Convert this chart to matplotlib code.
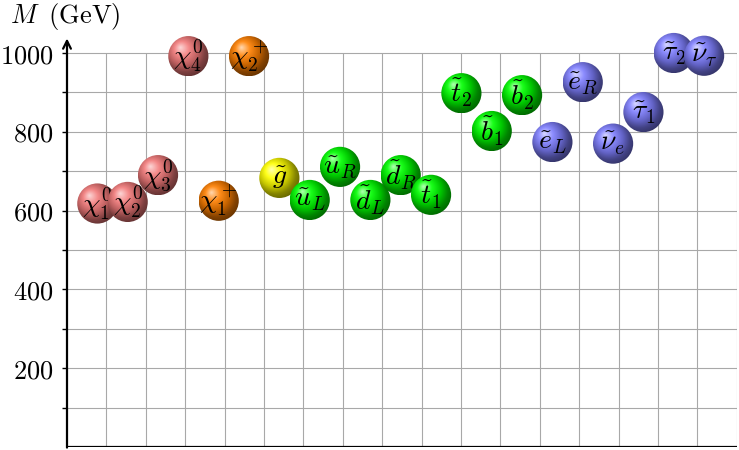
import numpy as np
import matplotlib
matplotlib.use("Agg")
import matplotlib.pyplot as plt
from matplotlib.patches import Ellipse

plt.rcParams["mathtext.fontset"] = "cm"
plt.rcParams["font.family"] = "serif"
plt.rcParams["font.serif"] = ["DejaVu Serif"]

# particle labels and masses (GeV), in drawing order
labels = [r"$\chi_1^0$", r"$\chi_2^0$", r"$\chi_3^0$", r"$\chi_4^0$",
          r"$\chi_1^+$", r"$\chi_2^+$",
          r"$\tilde{g}$",
          r"$\tilde{u}_L$", r"$\tilde{u}_R$", r"$\tilde{d}_L$", r"$\tilde{d}_R$",
          r"$\tilde{t}_1$", r"$\tilde{t}_2$", r"$\tilde{b}_1$", r"$\tilde{b}_2$",
          r"$\tilde{e}_L$", r"$\tilde{e}_R$", r"$\tilde{\nu}_e$",
          r"$\tilde{\tau}_1$", r"$\tilde{\tau}_2$", r"$\tilde{\nu}_\tau$"]
masses = [618, 622, 690, 992,
          625, 992,
          683,
          627, 711, 627, 690,
          640, 898, 802, 893,
          774, 926, 770,
          850, 1000, 993]
groups = ["neutralino"] * 4 + ["chargino"] * 2 + ["gluino"] + ["squark"] * 8 + ["slepton"] * 6

group_colors = {
    "neutralino": (0.95, 0.48, 0.48),
    "chargino": (1.0, 0.5, 0.0),
    "gluino": (1.0, 1.0, 0.0),
    "squark": (0.0, 1.0, 0.0),
    "slepton": (0.5, 0.5, 1.0),
}

step = 0.77      # spacing between balls (grid units)
radius = 0.51    # ball radius in grid units (1 unit = 100 GeV on screen)


def ball_image(c, n=120):
    # tikz-like ball shading, coordinates in bp (ball radius 25bp)
    c = np.array(c)
    w = np.ones(3)
    stops = [0, 9, 18, 25, 50]
    cols = [0.3 * c + 0.7 * w, 0.9 * c + 0.1 * w,
            0.78 * c, 0.52 * c, 0.0 * c]
    g = np.linspace(-25, 25, n)
    px, py = np.meshgrid(g, g[::-1])
    f = np.array([-10.0, 10.0])
    R = 50.0
    ax_, ay_ = px - f[0], py - f[1]
    af = ax_ * f[0] + ay_ * f[1]
    aa = ax_ ** 2 + ay_ ** 2
    den = R ** 2 - (f ** 2).sum()
    t = (af + np.sqrt(af ** 2 + den * aa)) / den
    s = R * t
    img = np.zeros((n, n, 3))
    for ch in range(3):
        img[..., ch] = np.interp(s, stops, [col[ch] for col in cols])
    return img


fig = plt.figure(figsize=(7.39, 4.5), dpi=100)
W, H = 739, 450
u = 39.4  # pixels per grid unit
x0, y0 = 67, 447
ymax = 1060
ax = fig.add_axes([x0 / W, (H - y0) / H, 17 * u / W, ymax / 100 * u / H])
ax.set_xlim(0, 17)
ax.set_ylim(0, ymax)

# grid
ax.vlines(np.arange(1, 18), 0, 1000, color="#a8a8a8", lw=0.8, zorder=0)
ax.hlines(np.arange(100, 1001, 100), 0, 17, color="#a8a8a8", lw=0.8, zorder=0)

# axes lines
for sp in ax.spines.values():
    sp.set_visible(False)
ax.plot([0, 17], [0, 0], color="black", lw=1.6, zorder=1, solid_capstyle="butt")
ax.annotate("", xy=(0, 1037), xytext=(0, -1.5),
            arrowprops=dict(arrowstyle="->", lw=1.6, color="black",
                            shrinkA=0, shrinkB=0, mutation_scale=14))

ax.set_xticks([])
ax.set_yticks([200, 400, 600, 800, 1000])
ax.set_yticklabels([r"$200$", r"$400$", r"$600$", r"$800$", r"$1000$"])
ax.set_yticks(np.arange(100, 1001, 200), minor=True)
ax.tick_params(axis="y", which="both", direction="out", length=3.6, width=1.0,
               labelsize=19, pad=6)

# balls
for i, (lab, m, grp) in enumerate(zip(labels, masses, groups)):
    x = (i + 1) * step
    img = ball_image(group_colors[grp])
    z = 2 + i
    im = ax.imshow(img, extent=[x - radius, x + radius, m - radius * 100, m + radius * 100],
                   aspect="auto", zorder=z, interpolation="bilinear")
    circ = Ellipse((x, m), 2 * radius, 2 * radius * 100, transform=ax.transData,
                   facecolor="none", edgecolor="none")
    ax.add_patch(circ)
    im.set_clip_path(circ)
    ax.text(x, m, lab, ha="center", va="center", fontsize=20, zorder=z + 0.5)

ax.set_xlim(0, 17)
ax.set_ylim(0, ymax)

fig.text(10 / W, 1 - 16 / H, r"$M\;\;(\mathrm{GeV})$", fontsize=19, ha="left", va="center")

fig.savefig("out.png", dpi=100)
